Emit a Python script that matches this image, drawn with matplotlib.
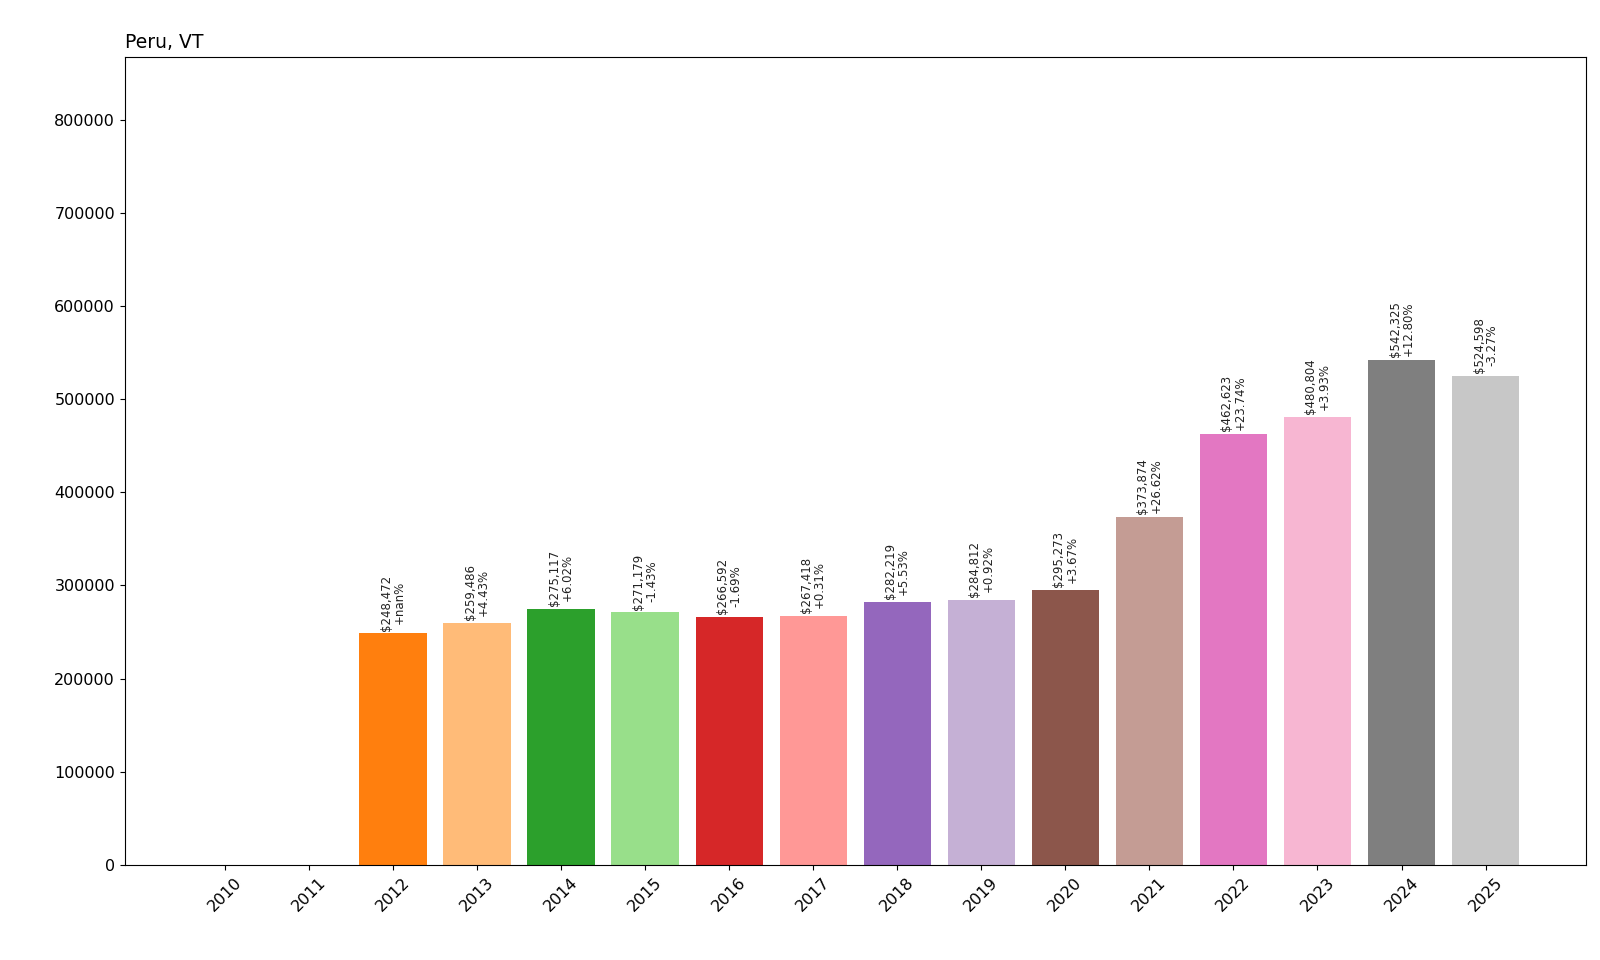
import matplotlib
matplotlib.use("Agg")
import matplotlib.pyplot as plt
import numpy as np

years = [str(y) for y in range(2010, 2026)]
values = [0, 0, 248472, 259486, 275117, 271179, 266592, 267418, 282219, 284812,
          295273, 373874, 462623, 480804, 542325, 524598]
pct_labels = ["", "", "+nan%", "+4.43%", "+6.02%", "-1.43%", "-1.69%", "+0.31%", "+5.53%",
              "+0.92%", "+3.67%", "+26.62%", "+23.74%", "+3.93%", "+12.80%", "-3.27%"]

fig = plt.figure(figsize=(16, 9.6), dpi=100)
ax = fig.add_axes([0.078, 0.099, 0.913, 0.842])
cmap = plt.get_cmap("tab20")
colors = [cmap(i % 20) for i in range(len(years))]
x = np.arange(len(years))
ax.bar(x, values, color=colors)
for xi, v, p in zip(x, values, pct_labels):
    if v > 0:
        ax.text(xi, v + 3000, f"${v:,}\n{p}", rotation=90, ha="center", va="bottom",
                fontsize=8.5, linespacing=1.0, color="#222222")
ax.set_xticks(x)
ax.set_xticklabels(years, rotation=45, fontsize=11.5)
ax.tick_params(axis="y", labelsize=11.5)
ax.set_ylim(0, max(values) * 1.6)
ax.set_title("Peru, VT", loc="left", fontsize=13.5)
fig.savefig("out.png", dpi=100)
